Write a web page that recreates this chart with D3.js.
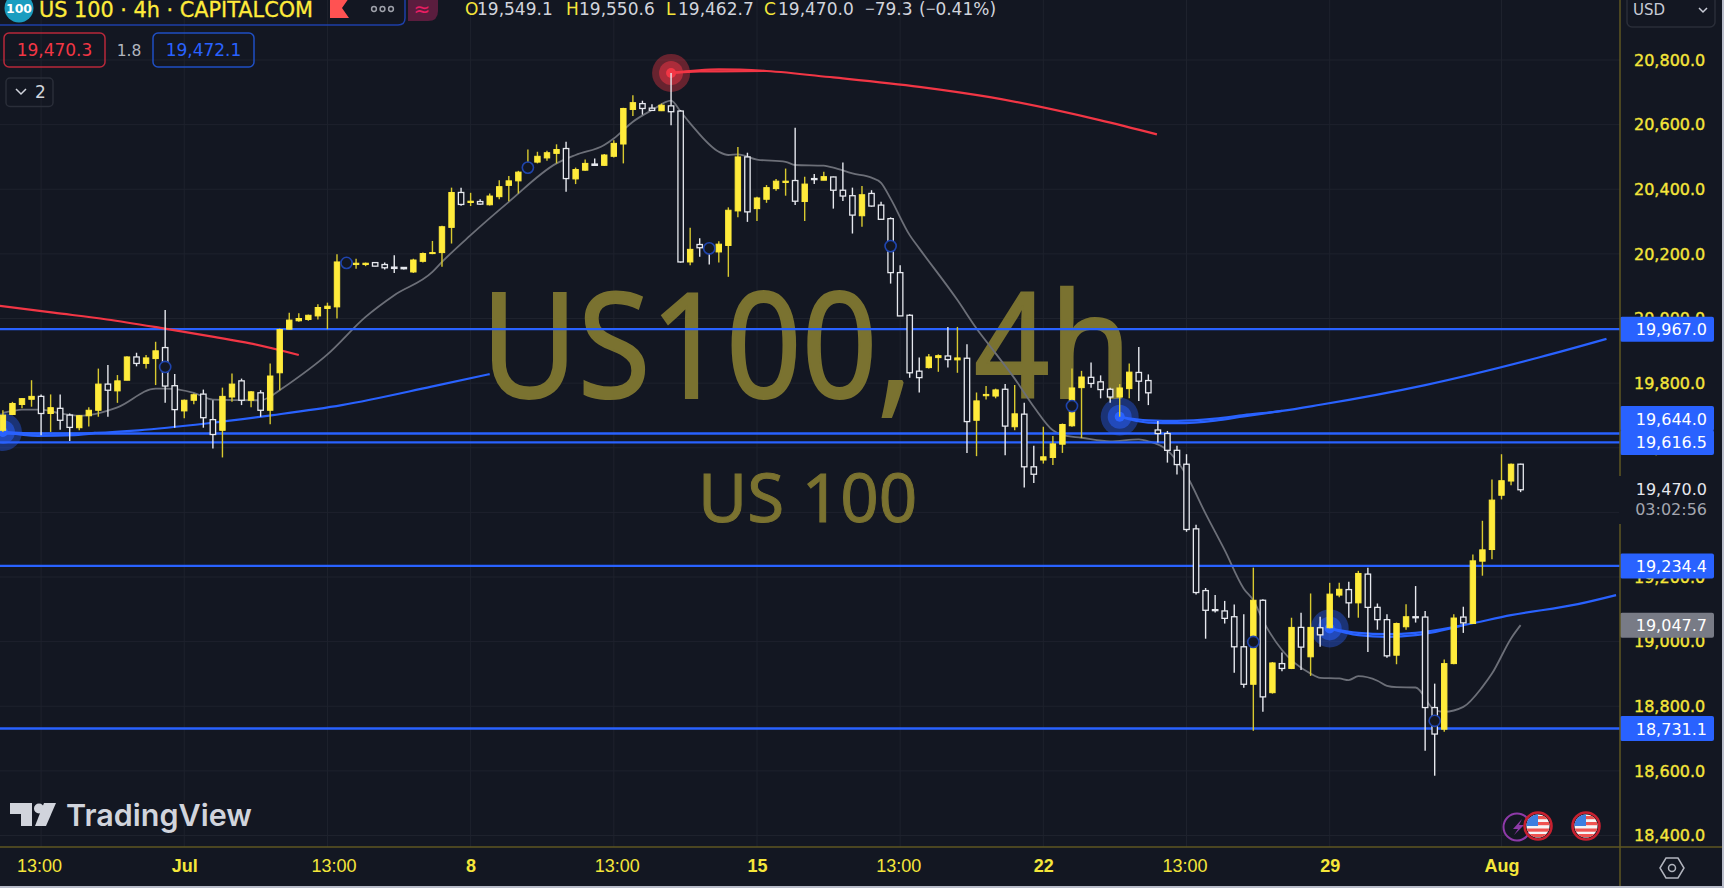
<!DOCTYPE html>
<html>
<head>
<meta charset="utf-8">
<title>US 100 4h</title>
<script src="https://cdnjs.cloudflare.com/ajax/libs/d3/7.8.5/d3.min.js"></script>
<style>
  html, body { margin: 0; padding: 0; background: #131722; overflow: hidden; }
  svg { display: block; }
  text { font-family: "DejaVu Sans", sans-serif; }
</style>
</head>
<body>
<div id="chart"></div>
<script>
// candles, one value per 4h bar
var opens = [
  19654,19703,19734,19750,19759,19706,19722,19701,19662,19699,
  19716,19797,19776,19809,19881,19861,19876,19910,19792,19714,
  19747,19766,19687,19654,19757,19807,19747,19770,19716,19832,
  19967,19993,19997,20008,20031,20036,20175,20167,20167,20173,
  20167,20159,20158,20144,20177,20201,20204,20282,20390,20359,
  20362,20352,20377,20412,20426,20459,20484,20497,20511,20526,
  20432,20459,20478,20474,20502,20540,20647,20665,20651,20643,
  20658,20642,20175,20229,20224,20206,20226,20333,20500,20340,
  20369,20402,20421,20427,20362,20433,20428,20438,20397,20380,
  20318,20387,20351,20309,20142,20010,19837,19848,19879,19884,
  19872,19877,19685,19761,19760,19781,19665,19704,19541,19562,
  19570,19611,19668,19786,19818,19804,19781,19757,19783,19833,
  19808,19655,19644,19592,19549,19349,19158,19099,19095,19077,
  18984,18868,19128,18842,18932,18917,19044,18953,19043,19043,
  19144,19161,19120,19209,19106,19068,18958,19046,19077,19076,
  18796,18729,18932,19076,19056,19249,19285,19453,19497,19549.1
];
var highs = [
  19716,19742,19754,19809,19765,19765,19765,19706,19701,19725,
  19845,19856,19825,19883,19894,19887,19928,20026,19828,19749,
  19768,19780,19747,19786,19830,19814,19776,19778,19861,19969,
  20018,20016,20012,20044,20049,20199,20185,20185,20173,20173,
  20173,20196,20158,20185,20204,20240,20287,20405,20405,20389,
  20369,20387,20428,20441,20457,20523,20516,20519,20539,20547,
  20467,20492,20495,20509,20552,20652,20691,20674,20663,20665,
  20760,20645,20281,20248,20232,20239,20344,20531,20513,20377,
  20413,20432,20464,20590,20439,20447,20454,20439,20483,20405,
  20410,20397,20361,20313,20165,20013,19879,19890,19889,19974,
  19974,19920,19771,19791,19783,19797,19794,19739,19606,19665,
  19636,19675,19845,19838,19864,19824,19786,19797,19861,19912,
  19827,19683,19652,19606,19580,19362,19166,19144,19126,19115,
  19085,19229,19131,18937,18966,19074,19089,19149,19077,19182,
  19182,19185,19219,19229,19118,19085,19059,19116,19172,19095,
  18870,18945,19085,19108,19270,19374,19502,19580,19551,19550.6
];
var lows = [
  19649,19701,19722,19727,19639,19649,19656,19621,19654,19666,
  19696,19696,19739,19809,19852,19845,19794,19739,19662,19691,
  19735,19662,19598,19570,19742,19732,19725,19696,19673,19778,
  19966,19990,19993,19997,19967,20000,20162,20154,20162,20162,
  20152,20141,20152,20141,20173,20199,20160,20232,20349,20348,
  20352,20350,20369,20363,20387,20449,20480,20488,20480,20392,
  20416,20457,20473,20472,20498,20480,20627,20631,20643,20642,
  20598,20173,20165,20191,20167,20173,20129,20313,20299,20302,
  20358,20395,20380,20351,20302,20416,20428,20340,20364,20263,
  20284,20346,20306,20108,20008,19817,19771,19845,19835,19848,
  19832,19584,19574,19749,19753,19577,19654,19477,19491,19551,
  19547,19584,19665,19630,19786,19753,19739,19696,19753,19745,
  19732,19616,19554,19517,19340,19146,19009,19090,19056,18904,
  18857,18724,18783,18839,18908,18915,18912,18894,18984,19041,
  19137,19074,19074,18968,19037,18950,18930,19037,19059,18662,
  18585,18721,18930,19027,19056,19204,19255,19440,19484,19462.7
];
var closes = [
  19701,19737,19752,19759,19706,19724,19685,19663,19699,19716,
  19797,19778,19807,19881,19861,19878,19900,19791,19718,19747,
  19764,19693,19641,19759,19797,19747,19773,19716,19822,19966,
  19995,20000,20010,20034,20038,20175,20167,20171,20171,20162,
  20157,20155,20154,20181,20201,20204,20284,20390,20353,20363,
  20354,20379,20408,20426,20453,20475,20502,20513,20523,20433,
  20461,20480,20474,20506,20542,20650,20668,20650,20644,20660,
  20640,20175,20214,20219,20206,20230,20335,20500,20330,20373,
  20405,20425,20425,20363,20416,20430,20439,20397,20379,20320,
  20383,20348,20307,20142,20008,19832,19817,19881,19885,19873,
  19878,19681,19745,19765,19779,19667,19705,19541,19518,19572,
  19612,19672,19785,19819,19799,19780,19757,19785,19834,19806,
  19770,19644,19592,19548,19347,19152,19097,19096,19072,18984,
  18868,19128,18829,18934,18917,19044,18983,19044,19021,19147,
  19162,19120,19211,19106,19068,18956,19056,19077,19074,18796,
  18714,18932,19073,19058,19250,19284,19438,19498,19549,19470.0
];

// gray average line
var grayBars = [0,1,2,4,6,8,9,12,16,17,20,22,27,28,29,34,38,41,45,46,49,53,58,60,63,64,66,68,70,71,72,75,76,77,79,82,83,86,87,89,91,92,93,95,96,100,102,104,106,108,110,111,113,116,119,120,122,124,126,128,130,131,132,134,137,138,140,141,142,144,145,146,148,150,151,153,155,156,158,159];
var grayVals = [19708,19714,19718,19718,19706,19699,19701,19725,19783,19783,19770,19749,19747,19758,19778,19889,20005,20072,20144,20175,20258,20361,20480,20506,20537,20557,20609,20645,20674,20640,20604,20516,20506,20508,20492,20485,20475,20473,20467,20449,20436,20420,20371,20258,20217,20057,19969,19892,19814,19727,19654,19639,19631,19620,19626,19620,19592,19515,19396,19283,19164,19128,19066,18974,18901,18888,18886,18881,18893,18879,18863,18859,18858,18788,18783,18798,18860,18901,19010,19051];

// anchored curves
var redBarsA = [-1,5.3,10.9,16.5,22.1,25.9,31];
var redValsA = [20042,20018,19997,19971,19943,19923,19887];
var redBarsB = [70,75,80,87,96,103.4,114.9,120.9];
var redValsB = [20760,20771,20766,20746,20717,20685,20614,20570];
var blueBarsA = [0,3.7,7.5,9.7,14.2,21.3,28.3,35.5,44.9,51];
var blueValsA = [19649,19644,19644,19646,19654,19675,19701,19732,19789,19828];
var blueBarsB = [117,120,123,127,130,134,138,149,161,168];
var blueValsB = [19696,19685,19683,19690,19701,19714,19733,19794,19880,19937];
var blueBarsC = [139,142,145,148,153,158,165,169];
var blueValsC = [19041,19027,19023,19027,19051,19082,19116,19144];

// second strand just after each pivot
var strandBarsA = [0,3.7,7.5,9.7];
var strandValsA = [19649,19637,19639,19646];
var strandBarsB = [117,120,123,127,130,134];
var strandValsB = [19696,19678,19676,19684,19697,19714];
var strandBarsC = [139,142,145,148,153];
var strandValsC = [19041,19020,19015,19020,19051];
var strandBarsD = [70,73,75,80];
var strandValsD = [20760,20765,20765,20766];

// horizontal levels and their labels
var levels = [19967.0,19644.0,19616.5,19234.4,18731.1];
var levelNudge = [0,-15,0,0,0];
var otherLevel = 19047.7;
var lastPrice = 19470.0;

// small ring markers every 19 bars, and the glowing pivots
var ringBars = [17,36,55,74,93,112,131,150];
var ringVals = [19850,20172,20467,20217,20224,19729,18999,18755];
var glowBars = [0,117,139];
var glowVals = [19649,19696,19041];
var peakBar = 70;
var peakVal = 20760;

// axes
var priceTicks = [20800,20600,20400,20200,20000,19800,19600,19400,19200,19000,18800,18600,18400];
var timeBars = [4,19,34,49,64,79,94,109,124,139,157];
var timeLabels = ["13:00","Jul","13:00","8","13:00","15","13:00","22","13:00","29","Aug"];
var timeNudge = [-2,0,6,0,3,0,-2,0,-2,0,0];

var width = 1724, height = 888,
    plotRight = 1620, plotBottom = 847;

var bg = "#131722",
    yellow = "#ffeb3b",
    candleWhite = "#e6e8ee",
    tickYellow = "#f5e63a",
    lineBlue = "#2962ff",
    red = "#f23645",
    olive = "#5f5722",
    gridColor = "#1e222d";

var x = d3.scaleLinear().domain([0, 159]).range([2.9, 1520.6]);
var y = d3.scaleLinear().domain([18400, 20800]).range([835.5, 60]);

var svg = d3.select("#chart").append("svg")
    .attr("width", width)
    .attr("height", height);

svg.append("rect").attr("width", width).attr("height", height).attr("fill", bg);

var defs = svg.append("defs");
defs.append("clipPath").attr("id", "plotClip")
    .append("rect").attr("width", plotRight).attr("height", plotBottom);
defs.append("clipPath").attr("id", "flagClip")
    .append("circle").attr("r", 11.5);

var plot = svg.append("g").attr("clip-path", "url(#plotClip)");

// grid
plot.selectAll(".vgrid").data(timeBars).enter().append("line")
    .attr("x1", d => x(d)).attr("x2", d => x(d))
    .attr("y1", 0).attr("y2", plotBottom)
    .attr("stroke", gridColor).attr("stroke-width", 1);
plot.selectAll(".hgrid").data(priceTicks).enter().append("line")
    .attr("x1", 0).attr("x2", plotRight)
    .attr("y1", d => y(d)).attr("y2", d => y(d))
    .attr("stroke", gridColor).attr("stroke-width", 1);

// watermark
var mark = "#7a7230";
var wm = plot.append("text")
    .attr("transform", "translate(481,398) scale(0.9,1)")
    .attr("fill", mark)
    .attr("stroke", mark)
    .attr("stroke-width", 2)
    .style("font-family", "'Noto Sans'")
    .style("font-size", "147px");
wm.append("tspan").text("US100,");
wm.append("tspan").attr("dx", 68).text("4h");
plot.append("text")
    .attr("transform", "translate(698,522) scale(0.99,1)")
    .attr("fill", mark)
    .attr("stroke", mark)
    .attr("stroke-width", 1)
    .style("font-family", "'Noto Sans'")
    .style("font-size", "68px")
    .text("US 100");

function pairs(bars, vals) {
    return bars.map(function(b, i) { return [b, vals[i]]; });
}

var curve = d3.line()
    .x(d => x(d[0]))
    .y(d => y(d[1]))
    .curve(d3.curveMonotoneX);

// gray line under the candles
plot.append("path")
    .attr("d", curve(pairs(grayBars, grayVals)))
    .attr("fill", "none")
    .attr("stroke", "#6c6f78")
    .attr("stroke-width", 1.8);

// horizontal levels
plot.selectAll(".level").data(levels).enter().append("line")
    .attr("x1", 0).attr("x2", plotRight)
    .attr("y1", d => y(d)).attr("y2", d => y(d))
    .attr("stroke", lineBlue).attr("stroke-width", 2.4);

// anchored curves
[[redBarsA, redValsA, red], [redBarsB, redValsB, red], [strandBarsD, strandValsD, red],
 [blueBarsA, blueValsA, lineBlue], [blueBarsB, blueValsB, lineBlue], [blueBarsC, blueValsC, lineBlue],
 [strandBarsA, strandValsA, lineBlue], [strandBarsB, strandValsB, lineBlue], [strandBarsC, strandValsC, lineBlue]]
.forEach(function(c) {
    plot.append("path")
        .attr("d", curve(pairs(c[0], c[1])))
        .attr("fill", "none")
        .attr("stroke", c[2])
        .attr("stroke-width", 2.2);
});

// glows
function glow(cx, cy, color) {
    plot.append("circle").attr("cx", cx).attr("cy", cy).attr("r", 19).attr("fill", color).attr("opacity", 0.38);
    plot.append("circle").attr("cx", cx).attr("cy", cy).attr("r", 12).attr("fill", color).attr("opacity", 0.5);
    plot.append("circle").attr("cx", cx).attr("cy", cy).attr("r", 5).attr("fill", color);
}
glowBars.forEach(function(b, i) { glow(x(b), y(glowVals[i]), lineBlue); });
glow(x(peakBar), y(peakVal), red);

// candles
var candles = d3.range(opens.length);
var isUp = i => closes[i] >= opens[i];

plot.selectAll(".wick").data(candles).enter().append("line")
    .attr("class", "wick")
    .attr("x1", i => x(i)).attr("x2", i => x(i))
    .attr("y1", i => y(highs[i])).attr("y2", i => y(lows[i]))
    .attr("stroke", i => isUp(i) ? "#d8c92f" : candleWhite)
    .attr("stroke-width", 1.4);

plot.selectAll(".body").data(candles).enter().append("rect")
    .attr("class", "body")
    .attr("x", i => x(i) - 2.7)
    .attr("width", 5.4)
    .attr("y", i => y(Math.max(opens[i], closes[i])))
    .attr("height", i => Math.max(1, Math.abs(y(opens[i]) - y(closes[i]))))
    .attr("fill", i => isUp(i) ? yellow : bg)
    .attr("stroke", i => isUp(i) ? yellow : candleWhite)
    .attr("stroke-width", i => isUp(i) ? 1 : 1.3);

// ring markers
plot.selectAll(".ring").data(ringBars).enter().append("circle")
    .attr("cx", d => x(d))
    .attr("cy", (d, i) => y(ringVals[i]))
    .attr("r", 5.6)
    .attr("fill", bg)
    .attr("stroke", "#1f44ad")
    .attr("stroke-width", 1.6);

// TradingView logo
var logo = plot.append("g").attr("fill", "#d1d4dc").attr("transform", "translate(0,780)");
logo.append("path").attr("d", "M10 23H32V46H21V34H10Z");
logo.append("circle").attr("cx", 39).attr("cy", 28.5).attr("r", 5);
logo.append("path").attr("d", "M44 23H56L46 46H35Z");
plot.append("text")
    .attr("x", 66).attr("y", 826)
    .attr("fill", "#d1d4dc")
    .style("font-family", "Inter")
    .style("font-weight", 600)
    .style("font-size", "30.5px")
    .text("TradingView");

// calendar flags
function usFlag(cx, cy) {
    var g = plot.append("g").attr("transform", "translate(" + cx + "," + cy + ")");
    var inner = g.append("g").attr("clip-path", "url(#flagClip)");
    inner.append("rect").attr("x", -12).attr("y", -12).attr("width", 24).attr("height", 24).attr("fill", "#f5f5f5");
    [-10, -4, 2.5, 8].forEach(function(s) {
        inner.append("rect").attr("x", -12).attr("y", s).attr("width", 24).attr("height", 3.2).attr("fill", "#ef5350");
    });
    inner.append("rect").attr("x", -12).attr("y", -12).attr("width", 12).attr("height", 12).attr("fill", "#3d7fe0");
    g.append("circle").attr("r", 13.5).attr("fill", "none").attr("stroke", "#c8202f").attr("stroke-width", 2.6);
}
plot.append("circle").attr("cx", 1517).attr("cy", 827).attr("r", 13.5).attr("fill", bg)
    .attr("stroke", "#8e3aa8").attr("stroke-width", 2);
plot.append("path").attr("d", "M1522 819L1513 829H1518L1514 835L1524 825H1519Z").attr("fill", "#8e3aa8");
usFlag(1538, 826);
usFlag(1586, 826);

// price axis
var yAxis = svg.append("g")
    .attr("transform", "translate(" + plotRight + ",0)")
    .call(d3.axisRight(y).tickValues(priceTicks).tickSize(0).tickPadding(14).tickFormat(d3.format(",.1f")));
yAxis.select(".domain").remove();
yAxis.selectAll("text")
    .attr("fill", tickYellow)
    .attr("stroke", tickYellow)
    .attr("stroke-width", 0.35)
    .style("font-family", "'DejaVu Sans'")
    .style("font-size", "16px");

// time axis
var xAxis = svg.append("g")
    .attr("transform", "translate(0," + plotBottom + ")")
    .call(d3.axisBottom(x).tickValues(timeBars).tickSize(0).tickPadding(12)
        .tickFormat((d, i) => timeLabels[i]));
xAxis.select(".domain").remove();
xAxis.selectAll("text")
    .attr("dx", (d, i) => timeNudge[i])
    .attr("fill", tickYellow)
    .style("font-family", "'Liberation Sans'")
    .style("font-size", "18px")
    .style("font-weight", (d, i) => timeLabels[i] == "13:00" ? 400 : 700);

// level labels on the axis
function priceLabel(val, nudge, color) {
    var cy = y(val) + nudge;
    svg.append("rect")
        .attr("x", plotRight).attr("y", cy - 12.5)
        .attr("width", 94).attr("height", 25).attr("rx", 2)
        .attr("fill", color);
    svg.append("text")
        .attr("x", 1707).attr("y", cy + 6)
        .attr("text-anchor", "end")
        .attr("fill", "#ffffff")
        .style("font-size", "16px")
        .text(d3.format(",.1f")(val));
}
levels.forEach(function(d, i) { priceLabel(d, levelNudge[i], lineBlue); });
priceLabel(otherLevel, -1, "#787b86");

// last price label
svg.append("rect")
    .attr("x", plotRight - 1).attr("y", 476)
    .attr("width", 100).attr("height", 48)
    .attr("fill", bg);
svg.append("text")
    .attr("x", 1707).attr("y", 495)
    .attr("text-anchor", "end")
    .attr("fill", "#e6e8ee")
    .style("font-size", "16px")
    .text(d3.format(",.1f")(lastPrice));
svg.append("text")
    .attr("x", 1707).attr("y", 515)
    .attr("text-anchor", "end")
    .attr("fill", "#a3a6af")
    .style("font-size", "16px")
    .text("03:02:56");

// axis frame lines
svg.append("line").attr("x1", 0).attr("x2", width).attr("y1", plotBottom).attr("y2", plotBottom)
    .attr("stroke", olive).attr("stroke-width", 1.5);
svg.append("line").attr("x1", plotRight).attr("x2", plotRight).attr("y1", 0).attr("y2", 476)
    .attr("stroke", olive).attr("stroke-width", 1.5);
svg.append("line").attr("x1", plotRight).attr("x2", plotRight).attr("y1", 524).attr("y2", height)
    .attr("stroke", olive).attr("stroke-width", 1.5);

// settings hexagon
svg.append("path").attr("d", "M1660 868L1666 858H1678L1684 868L1678 878H1666Z")
    .attr("fill", "none").attr("stroke", "#b2b5be").attr("stroke-width", 1.5);
svg.append("circle").attr("cx", 1672).attr("cy", 868).attr("r", 3.5)
    .attr("fill", "none").attr("stroke", "#b2b5be").attr("stroke-width", 1.5);

// USD button
svg.append("rect").attr("x", 1627).attr("y", -8).attr("width", 88).attr("height", 35).attr("rx", 5)
    .attr("fill", "none").attr("stroke", "#2a2e39").attr("stroke-width", 1.5);
svg.append("text").attr("x", 1633).attr("y", 15).attr("fill", "#c8cbd6").style("font-size", "15px").text("USD");
svg.append("path").attr("d", "M1699 8L1703 12L1707 8").attr("fill", "none").attr("stroke", "#c8cbd6").attr("stroke-width", 1.5);

// window edge
svg.append("rect").attr("x", 1722).attr("width", 2).attr("height", height).attr("fill", "#b9bdca");
svg.append("rect").attr("y", 886).attr("width", width).attr("height", 2).attr("fill", "#b9bdca");

// header
svg.append("path").attr("d", "M-2 25H398Q405 25 405 18V-2")
    .attr("fill", "none").attr("stroke", "#1e3fa8").attr("stroke-width", 1.5);
svg.append("circle").attr("cx", 19).attr("cy", 8).attr("r", 14.5).attr("fill", "#1b9dc0");
svg.append("text").attr("x", 19).attr("y", 13).attr("text-anchor", "middle")
    .attr("fill", "#ffffff").style("font-size", "12.5px").style("font-weight", 700).text("100");
svg.append("text").attr("x", 39).attr("y", 17).attr("fill", yellow)
    .attr("stroke", yellow).attr("stroke-width", 0.3)
    .style("font-size", "20.8px").text("US 100 · 4h · CAPITALCOM");
svg.append("path").attr("d", "M330 -2H349L342 8L349 18H330Z").attr("fill", "#ff5252");
[374, 382.5, 391].forEach(function(cx) {
    svg.append("circle").attr("cx", cx).attr("cy", 9).attr("r", 2.4)
        .attr("fill", "none").attr("stroke", "#9ea1aa").attr("stroke-width", 1.5);
});
svg.append("path").attr("d", "M408 -2H438V11Q438 21 428 21H408Z").attr("fill", "#5a1d3e");
svg.append("text").attr("x", 422).attr("y", 16).attr("text-anchor", "middle")
    .attr("fill", "#e91e63").style("font-size", "20px").text("≈");

// OHLC readout
var readLabels = ["O", "H", "L", "C"];
var readLabelX = [465, 566, 666, 764];
var readValues = ["19,549.1", "19,550.6", "19,462.7", "19,470.0"];
var readValueX = [477, 579, 678, 778];
readLabels.forEach(function(d, i) {
    svg.append("text").attr("x", readLabelX[i]).attr("y", 15).attr("fill", tickYellow)
        .style("font-size", "17px").text(d);
    svg.append("text").attr("x", readValueX[i]).attr("y", 15).attr("fill", "#d1d4dc")
        .style("font-size", "17px").text(readValues[i]);
});
var change = svg.append("text").attr("x", 865).attr("y", 15).attr("fill", "#d1d4dc")
    .style("font-size", "17px");
change.append("tspan").style("font-family", "'Noto Sans'").text("−");
change.append("tspan").text("79.3");
var changePct = svg.append("text").attr("x", 919).attr("y", 15).attr("fill", "#d1d4dc")
    .style("font-size", "17px");
changePct.append("tspan").text("(");
changePct.append("tspan").style("font-family", "'Noto Sans'").text("−");
changePct.append("tspan").text("0.41%)");

// bid / ask boxes
function quoteBox(bx, w, color, label) {
    svg.append("rect").attr("x", bx).attr("y", 33).attr("width", w).attr("height", 34).attr("rx", 5)
        .attr("fill", "none").attr("stroke", color).attr("stroke-width", 1.5);
    svg.append("text").attr("x", bx + w / 2).attr("y", 56).attr("text-anchor", "middle")
        .attr("fill", color === "#1f4fc4" ? "#2962ff" : "#f23645")
        .style("font-size", "17px").text(label);
}
quoteBox(4, 101, "#b8283a", "19,470.3");
svg.append("text").attr("x", 129).attr("y", 56).attr("text-anchor", "middle")
    .attr("fill", "#b2b5be").style("font-size", "15.5px").text("1.8");
quoteBox(153, 101, "#1f4fc4", "19,472.1");

// indicators collapse button
svg.append("rect").attr("x", 6).attr("y", 78).attr("width", 47).attr("height", 28.5).attr("rx", 4)
    .attr("fill", "none").attr("stroke", "#2a2e39").attr("stroke-width", 1.5);
svg.append("path").attr("d", "M16 89L21 94L26 89").attr("fill", "none").attr("stroke", "#d1d4dc").attr("stroke-width", 1.5);
svg.append("text").attr("x", 35).attr("y", 98).attr("fill", "#d1d4dc").style("font-size", "17px").text("2");
</script>
</body>
</html>
